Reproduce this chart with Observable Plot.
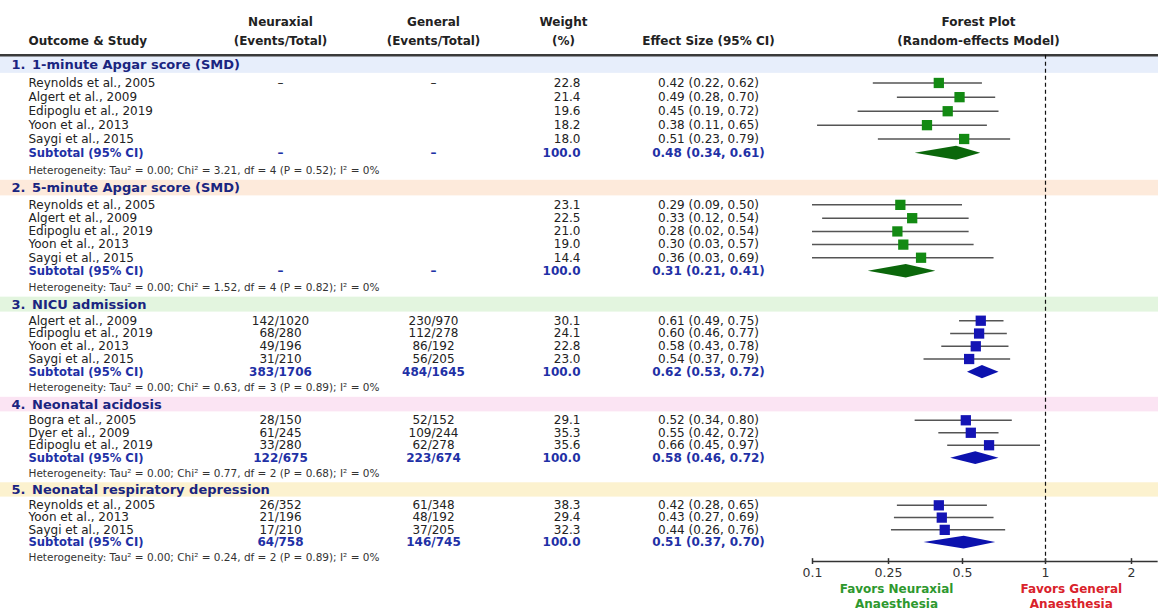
<!DOCTYPE html>
<html>
<head>
<meta charset="utf-8">
<script src="https://cdn.jsdelivr.net/npm/d3@7"></script>
<script src="https://cdn.jsdelivr.net/npm/@observablehq/plot@0.6"></script>
<style>
  html, body { margin: 0; padding: 0; background: #ffffff; }
  #chart svg { display: block; }
</style>
</head>
<body>
<div id="chart"></div>
<script>
// ---------------- DATA ----------------
const sectionTitles = [
  "1-minute Apgar score (SMD)",
  "5-minute Apgar score (SMD)",
  "NICU admission",
  "Neonatal acidosis",
  "Neonatal respiratory depression"
];
const sectionMeasure = ["SMD", "SMD", "RR", "RR", "RR"];
const heterogeneity = [
  "Heterogeneity: Tau² = 0.00; Chi² = 3.21, df = 4 (P = 0.52); I² = 0%",
  "Heterogeneity: Tau² = 0.00; Chi² = 1.52, df = 4 (P = 0.82); I² = 0%",
  "Heterogeneity: Tau² = 0.00; Chi² = 0.63, df = 3 (P = 0.89); I² = 0%",
  "Heterogeneity: Tau² = 0.00; Chi² = 0.77, df = 2 (P = 0.68); I² = 0%",
  "Heterogeneity: Tau² = 0.00; Chi² = 0.24, df = 2 (P = 0.89); I² = 0%"
];

const studySection = [0,0,0,0,0, 1,1,1,1,1, 2,2,2,2, 3,3,3, 4,4,4];
const studyNames = [
  "Reynolds et al., 2005", "Algert et al., 2009", "Edipoglu et al., 2019", "Yoon et al., 2013", "Saygi et al., 2015",
  "Reynolds et al., 2005", "Algert et al., 2009", "Edipoglu et al., 2019", "Yoon et al., 2013", "Saygi et al., 2015",
  "Algert et al., 2009", "Edipoglu et al., 2019", "Yoon et al., 2013", "Saygi et al., 2015",
  "Bogra et al., 2005", "Dyer et al., 2009", "Edipoglu et al., 2019",
  "Reynolds et al., 2005", "Yoon et al., 2013", "Saygi et al., 2015"
];
const neuraxialEvents = [
  "–", "", "", "", "",
  "", "", "", "", "",
  "142/1020", "68/280", "49/196", "31/210",
  "28/150", "61/245", "33/280",
  "26/352", "21/196", "17/210"
];
const generalEvents = [
  "–", "", "", "", "",
  "", "", "", "", "",
  "230/970", "112/278", "86/192", "56/205",
  "52/152", "109/244", "62/278",
  "61/348", "48/192", "37/205"
];
const studyWeight = [22.8, 21.4, 19.6, 18.2, 18.0, 23.1, 22.5, 21.0, 19.0, 14.4, 30.1, 24.1, 22.8, 23.0, 29.1, 35.3, 35.6, 38.3, 29.4, 32.3];
const studyEstimate = [0.42, 0.49, 0.45, 0.38, 0.51, 0.29, 0.33, 0.28, 0.30, 0.36, 0.61, 0.60, 0.58, 0.54, 0.52, 0.55, 0.66, 0.42, 0.43, 0.44];
const studyLower    = [0.22, 0.28, 0.19, 0.11, 0.23, 0.09, 0.12, 0.02, 0.03, 0.03, 0.49, 0.46, 0.43, 0.37, 0.34, 0.42, 0.45, 0.28, 0.27, 0.26];
const studyUpper    = [0.62, 0.70, 0.72, 0.65, 0.79, 0.50, 0.54, 0.54, 0.57, 0.69, 0.75, 0.77, 0.78, 0.79, 0.80, 0.72, 0.97, 0.65, 0.69, 0.76];

const subtotalNeuraxial = ["–", "–", "383/1706", "122/675", "64/758"];
const subtotalGeneral   = ["–", "–", "484/1645", "223/674", "146/745"];
const subtotalWeight    = [100.0, 100.0, 100.0, 100.0, 100.0];
const subtotalEstimate  = [0.48, 0.31, 0.62, 0.58, 0.51];
const subtotalLower     = [0.34, 0.21, 0.53, 0.46, 0.37];
const subtotalUpper     = [0.61, 0.41, 0.72, 0.72, 0.70];

const xTickValues = [0.1, 0.25, 0.5, 1, 2];
const xTickLabels = ["0.1", "0.25", "0.5", "1", "2"];

const headTop    = ["", "Neuraxial", "General", "Weight", "", "Forest Plot"];
const headBottom = ["Outcome & Study", "(Events/Total)", "(Events/Total)", "(%)", "Effect Size (95% CI)", "(Random-effects Model)"];
const favorsLabels = ["Favors Neuraxial\nAnaesthesia", "Favors General\nAnaesthesia"];

// ---------------- STYLE / LAYOUT ----------------
const FONT = "'DejaVu Sans', Verdana, sans-serif";
const STYLE = {
  band: ["#e7eefb", "#fdeadb", "#e3f5df", "#fbe4f3", "#fcf2cf"],
  navy: "#1a2580",
  blue: "#1f31a6",
  text: "#222222",
  het: "#333333",
  square: {SMD: "#138a13", RR: "#1414b4"},
  diamond: {SMD: "#0b670b", RR: "#0c12ae"},
  ci: "#555555",
  favors: ["#2e982e", "#d9222b"]
};
// horizontal column anchors (px from left edge)
const COL = {num: 11, title: 31.5, label: 28, neur: 280, gen: 433, weight: 580, weightHead: 563, effect: 708, forest: 978};
const headCols = [
  {pos: COL.label, anchor: "start"},
  {pos: COL.neur, anchor: "middle"},
  {pos: COL.gen, anchor: "middle"},
  {pos: COL.weightHead, anchor: "middle"},
  {pos: COL.effect, anchor: "middle"},
  {pos: COL.forest, anchor: "middle"}
];
// vertical layout in row units
const L = {first: 8.14, head1: -2.9, head2: -1.65, rule: -0.67, gHead: 1.25, gStudy: 1, gSub: 1.04, gHet: 1.25, gNext: 1.32,
           band: 0.58, axisGap: 0.31, tickTop: 0.24, tickBottom: 0.24, tickLab: 0.98, favors: 2.83, diamond: 0.52};
const favorsAt = [0.277, 1.30];
const axisEnd = 2.31;

// ---------------- BUILD ROWS ----------------
const headers = [], studies = [], subtotals = [], hets = [];
let u = L.first;
sectionTitles.forEach((title, s) => {
  headers.push({s, num: `${s + 1}.`, title, u});
  u += L.gHead - L.gStudy;
  studyNames.forEach((name, k) => {
    if (studySection[k] !== s) return;
    u += L.gStudy;
    studies.push({s, u, name, neur: neuraxialEvents[k], gen: generalEvents[k], w: studyWeight[k],
                  est: studyEstimate[k], lo: studyLower[k], hi: studyUpper[k], m: sectionMeasure[s]});
  });
  u += L.gSub;
  subtotals.push({s, u, neur: subtotalNeuraxial[s], gen: subtotalGeneral[s], w: subtotalWeight[s],
                  est: subtotalEstimate[s], lo: subtotalLower[s], hi: subtotalUpper[s], m: sectionMeasure[s]});
  u += L.gHet;
  hets.push({s, u, text: heterogeneity[s]});
  u += L.gNext;
});
const lastHet = hets[hets.length - 1].u;
const axisU = lastHet + L.axisGap;
const ruleU = L.first + L.rule;
const fmtCI = d => `${d.est.toFixed(2)} (${d.lo.toFixed(2)}, ${d.hi.toFixed(2)})`;
const xMin = xTickValues[0];

const diamondPts = subtotals.flatMap(d => [
  {s: d.s, x: d.lo, y1: d.u, y2: d.u, m: d.m},
  {s: d.s, x: d.est, y1: d.u - L.diamond, y2: d.u + L.diamond, m: d.m},
  {s: d.s, x: d.hi, y1: d.u, y2: d.u, m: d.m}
]);

const heads = headTop.map((t, i) => ({top: t, bottom: headBottom[i], i}));

// helper: a text column anchored at a fixed horizontal position
function col(data, text, pos, anchor, opts = {}) {
  return Plot.text(data, {frameAnchor: "left", dx: pos, y: "u", text, textAnchor: anchor,
                          fontSize: 12, fill: STYLE.text, ...opts});
}

const marks = [
  // section bands
  Plot.rect(headers, {y1: d => d.u - L.band, y2: d => d.u + L.band, fill: d => STYLE.band[d.s]}),
  // header rule
  Plot.ruleY([ruleU], {stroke: "#3a3a3a", strokeWidth: 2.6}),
  // null line
  Plot.ruleX([1], {y1: ruleU, y2: axisU, stroke: "#111", strokeWidth: 1.2, strokeDasharray: "4,3"}),

  // column headers
  ...heads.map(h => Plot.text([h], {frameAnchor: "left", dx: headCols[h.i].pos, y: () => L.first + L.head1,
      text: "top", textAnchor: headCols[h.i].anchor, fontSize: 12, fontWeight: "bold", fill: STYLE.text})),
  ...heads.map(h => Plot.text([h], {frameAnchor: "left", dx: headCols[h.i].pos, y: () => L.first + L.head2,
      text: "bottom", textAnchor: headCols[h.i].anchor, fontSize: 12, fontWeight: "bold", fill: STYLE.text})),

  // section headers
  col(headers, "num", COL.num, "start", {fontSize: 13, fontWeight: "bold", fill: STYLE.navy}),
  col(headers, "title", COL.title, "start", {fontSize: 13, fontWeight: "bold", fill: STYLE.navy}),

  // study rows
  col(studies, "name", COL.label, "start"),
  col(studies, "neur", COL.neur, "middle"),
  col(studies, "gen", COL.gen, "middle"),
  col(studies, d => d.w.toFixed(1), COL.weight, "end"),
  col(studies, fmtCI, COL.effect, "middle"),

  // subtotal rows
  col(subtotals, () => "Subtotal (95% CI)", COL.label, "start", {fontWeight: "bold", fontSize: 11.6, fill: STYLE.blue}),
  col(subtotals, "neur", COL.neur, "middle", {fontWeight: "bold", fill: STYLE.blue}),
  col(subtotals, "gen", COL.gen, "middle", {fontWeight: "bold", fill: STYLE.blue}),
  col(subtotals, d => d.w.toFixed(1), COL.weight, "end", {fontWeight: "bold", fill: STYLE.blue}),
  col(subtotals, fmtCI, COL.effect, "middle", {fontWeight: "bold", fill: STYLE.blue}),

  // heterogeneity
  col(hets, "text", COL.label, "start", {fontSize: 10.5, fill: STYLE.het}),

  // forest plot: confidence intervals and point estimates
  Plot.ruleY(studies, {y: "u", x1: d => Math.max(d.lo, xMin), x2: "hi", stroke: STYLE.ci, strokeWidth: 1.5}),
  Plot.dot(studies, {x: "est", y: "u", symbol: "square", r: 5.8, fill: d => STYLE.square[d.m], stroke: "none"}),
  Plot.areaY(diamondPts, {x: "x", y1: "y1", y2: "y2", z: "s", fill: d => STYLE.diamond[d.m], stroke: "none"}),

  // axis
  Plot.ruleY([axisU], {x1: xMin, x2: axisEnd, stroke: "#333", strokeWidth: 1.5}),
  Plot.ruleX(xTickValues, {x: d => d, y1: axisU - L.tickTop, y2: axisU + L.tickBottom, stroke: "#333", strokeWidth: 1.5}),
  Plot.text(xTickValues, {x: d => d, y: () => axisU + L.tickLab, text: (d, i) => xTickLabels[i], fontSize: 12.5, fill: "#333"}),
  Plot.text(favorsLabels, {x: (d, i) => favorsAt[i], y: () => axisU + L.favors, text: d => d, fontSize: 12,
      fontWeight: "bold", lineHeight: 1.25, fill: (d, i) => STYLE.favors[i]})
];

const chart = Plot.plot({
  width: 1158,
  height: 612,
  marginTop: 0, marginRight: 0, marginBottom: 0, marginLeft: 0,
  style: {fontFamily: FONT, background: "#ffffff", overflow: "visible"},
  x: {type: "linear", domain: xTickValues, range: [812, 888, 962, 1045, 1131], axis: null},
  y: {type: "pow", exponent: 0.9, domain: [L.first, lastHet], range: [64.5, 557.3], axis: null},
  color: {type: "identity"},
  marks
});
document.getElementById("chart").appendChild(chart);
</script>
</body>
</html>
